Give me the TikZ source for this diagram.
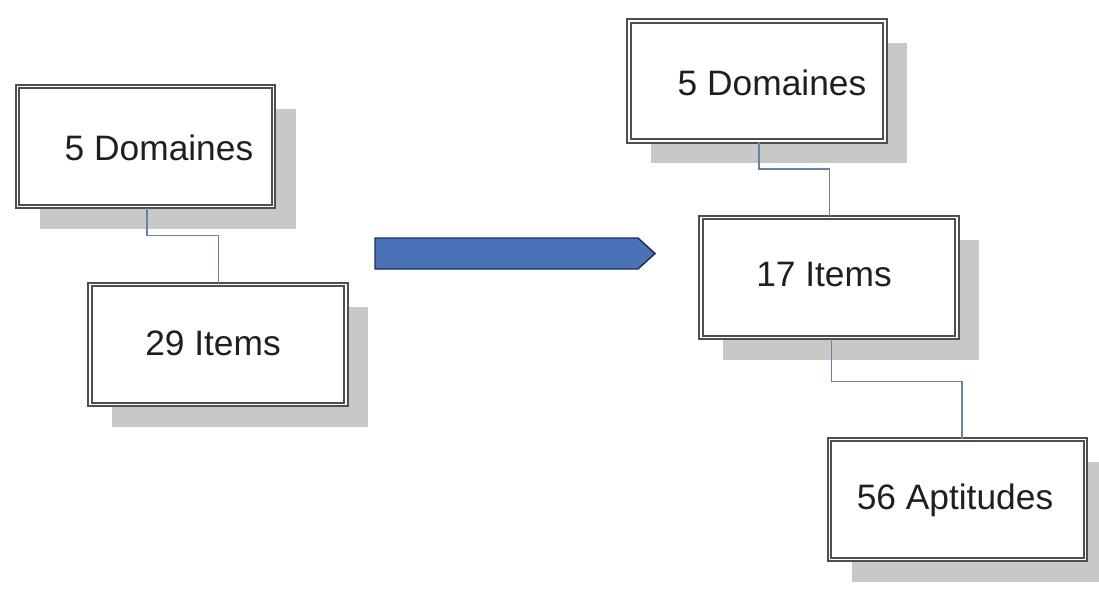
\documentclass[tikz,border=0pt]{standalone}
\usepackage{fontspec}
\setmainfont{Liberation Sans}
\usetikzlibrary{shadows}
\definecolor{boxline}{RGB}{78,78,78}
\definecolor{shadowgray}{RGB}{200,200,200}
\definecolor{linkblue}{RGB}{105,130,160}
\definecolor{arrowfill}{RGB}{74,114,184}
\definecolor{arrowedge}{RGB}{32,48,80}
\tikzset{
  levelbox/.style={rectangle, minimum width=192pt, minimum height=90pt,
    draw=boxline, line width=1.5pt, double=white, double distance=1.1pt,
    fill=white,
    drop shadow={shadow xshift=16.5pt, shadow yshift=-16.5pt, opacity=1, fill=shadowgray}},
  boxlabel/.style={font=\fontsize{26.5pt}{30pt}\selectfont, text=black!88, inner sep=0pt},
  link/.style={draw=linkblue, line width=1.2pt}
}
\begin{document}
\begin{tikzpicture}[x=0.75pt, y=-0.75pt]
  \useasboundingbox (0,0) rectangle (1099,589);
  \fill[white] (0,0) rectangle (1099,589);

  % left hierarchy
  \node[levelbox] (b1) at (145.5,146.5) {};
  \node[levelbox] (b2) at (218,344.5) {};
  \node[boxlabel] (t1) at (159,148) {5 Domaines};
  \node[boxlabel] (t2) at (213,343) {29 Items};

  % right hierarchy
  \node[levelbox] (b3) at (757,81) {};
  \node[levelbox] (b4) at (829,277.5) {};
  \node[levelbox] (b5) at (957.5,499.5) {};
  \node[boxlabel] (t3) at (772,83) {5 Domaines};
  \node[boxlabel] (t4) at (824,275) {17 Items};
  \node[boxlabel] (t5) at (955,500) {56 Aptitudes};

  % elbow connectors
  \path[link] ([xshift=1pt]b1.south) -- ++(0,28) -| ([xshift=0.5pt]b2.north);
  \path[link] ([xshift=1.5pt]b3.south) -- ++(0,27) -| ([xshift=0.5pt]b4.north);
  \path[link] ([xshift=2pt]b4.south) -- ++(0,43) -| ([xshift=3.5pt]b5.north);

  % transition arrow
  \draw[fill=arrowfill, draw=arrowedge, line width=1.1pt, line join=miter]
    (375,238) -- (638,238) -- (655,253.5) -- (638,269) -- (375,269) -- cycle;
\end{tikzpicture}
\end{document}
